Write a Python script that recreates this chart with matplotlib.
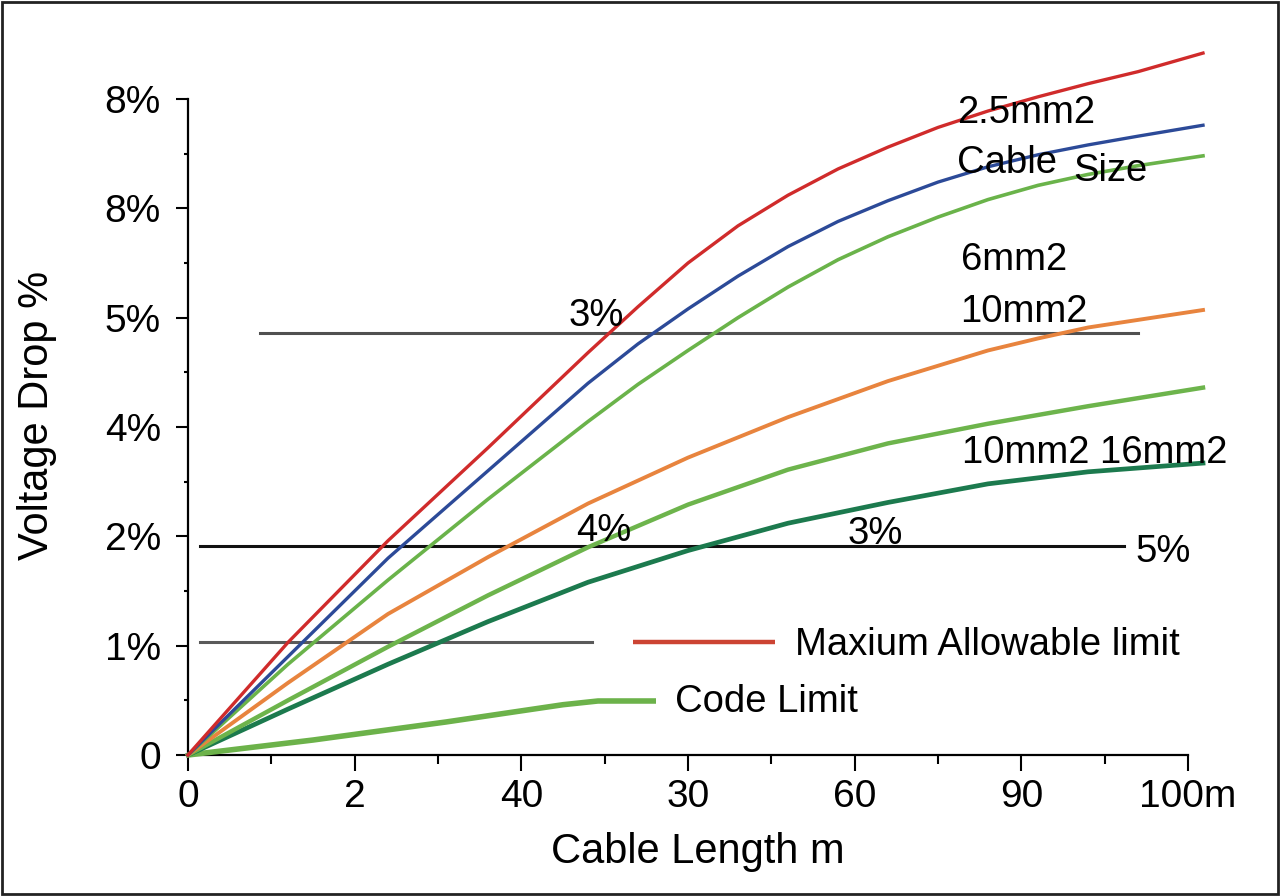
"""Voltage drop vs cable length for several cable sizes."""

import matplotlib
matplotlib.use("Agg")
import matplotlib.pyplot as plt
from matplotlib.patches import Rectangle

plt.rcParams["font.family"] = ["Liberation Sans", "DejaVu Sans"]

# ============================================================
# Data (x and y in tick-slot units)
# ============================================================

x_ticks = [0, 1, 2, 3, 4, 5, 6]
x_tick_labels = ["0", "2", "40", "30", "60", "90", "100m"]
y_ticks = [0, 1, 2, 3, 4, 5, 6]
y_tick_labels = ["0", "1%", "2%", "4%", "5%", "8%", "8%"]

red_x = [0, 0.6, 1.2, 1.8, 2.4, 2.7, 3.0, 3.3, 3.6, 3.9, 4.2, 4.5, 4.8, 5.1,
         5.4, 5.7, 6.09]
red_y = [0, 1.03, 1.96, 2.81, 3.68, 4.10, 4.50, 4.84, 5.12, 5.36, 5.56, 5.74,
         5.89, 6.02, 6.14, 6.25, 6.42]

blue_x = [0, 0.6, 1.2, 1.8, 2.4, 2.7, 3.0, 3.3, 3.6, 3.9, 4.2, 4.5, 4.8, 5.1,
          5.4, 5.7, 6.09]
blue_y = [0, 0.90, 1.80, 2.60, 3.40, 3.76, 4.08, 4.38, 4.65, 4.88, 5.07, 5.24,
          5.38, 5.49, 5.58, 5.66, 5.76]

green1_x = [0, 0.6, 1.2, 1.8, 2.4, 2.7, 3.0, 3.3, 3.6, 3.9, 4.2, 4.5, 4.8,
            5.1, 5.4, 5.7, 6.09]
green1_y = [0, 0.83, 1.60, 2.34, 3.05, 3.39, 3.70, 4.00, 4.28, 4.53, 4.74,
            4.92, 5.08, 5.21, 5.31, 5.39, 5.48]

orange_x = [0, 0.6, 1.2, 1.8, 2.4, 3.0, 3.6, 4.2, 4.8, 5.1, 5.4, 6.09]
orange_y = [0, 0.66, 1.29, 1.81, 2.30, 2.72, 3.09, 3.42, 3.70, 3.81, 3.91,
            4.07]

green2_x = [0, 0.6, 1.2, 1.8, 2.4, 3.0, 3.6, 4.2, 4.8, 5.4, 6.09]
green2_y = [0, 0.50, 0.99, 1.46, 1.90, 2.29, 2.61, 2.85, 3.03, 3.19, 3.36]

dkgreen_x = [0, 0.6, 1.2, 1.8, 2.4, 3.0, 3.6, 4.2, 4.8, 5.4, 6.09]
dkgreen_y = [0, 0.42, 0.83, 1.22, 1.58, 1.87, 2.12, 2.31, 2.48, 2.59, 2.67]

code_x = [0, 0.75, 1.548, 2.25, 2.46, 2.808]
code_y = [0, 0.137, 0.302, 0.46, 0.494, 0.494]

# horizontal limit lines: (y, x_start, x_end)
limit_top = (3.86, 0.432, 5.7)
limit_mid = (1.912, 0.072, 5.616)
limit_low = (1.034, 0.072, 2.424)

legend_red_x = [2.67, 3.52]
legend_red_y = [1.034, 1.034]

# ============================================================
# Plot
# ============================================================

fig = plt.figure(figsize=(12.8, 8.96), dpi=100)
ax = fig.add_axes([188 / 1280, 141 / 896, 1000 / 1280, 656 / 896])

for y, x0, x1, col in [(*limit_top, "#505050"), (*limit_mid, "#111111"),
                       (*limit_low, "#5a5a5a")]:
    ax.plot([x0, x1], [y, y], color=col, lw=2.2, clip_on=False, zorder=2)

ax.plot(code_x, code_y, color="#6cb24a", lw=4.0, clip_on=False,
        solid_capstyle="butt", zorder=3)
ax.plot(dkgreen_x, dkgreen_y, color="#1c7a4e", lw=3.4, clip_on=False, zorder=3)
ax.plot(green2_x, green2_y, color="#6db44c", lw=3.2, clip_on=False, zorder=3)
ax.plot(orange_x, orange_y, color="#e8843e", lw=2.8, clip_on=False, zorder=3)
ax.plot(green1_x, green1_y, color="#6ab34a", lw=2.6, clip_on=False, zorder=3)
ax.plot(blue_x, blue_y, color="#2c4a98", lw=2.4, clip_on=False, zorder=3)
ax.plot(red_x, red_y, color="#d02b2b", lw=2.4, clip_on=False, zorder=3)
ax.plot(legend_red_x, legend_red_y, color="#cc4433", lw=3.2,
        solid_capstyle="butt", clip_on=False, zorder=3)

ax.set_xlim(0, 6)
ax.set_ylim(0, 6)

ax.set_xticks(x_ticks)
ax.set_xticklabels(x_tick_labels)
ax.set_yticks(y_ticks)
ax.set_yticklabels(y_tick_labels)
ax.set_xticks([t + 0.5 for t in x_ticks[:-1]], minor=True)
ax.set_yticks([t + 0.5 for t in y_ticks[:-1]], minor=True)

ax.tick_params(axis="x", which="major", length=11.5, width=1.5, pad=6,
               labelsize=28, direction="out")
ax.tick_params(axis="x", which="minor", length=6.5, width=1.5, direction="out")
ax.tick_params(axis="y", which="major", length=8.6, width=1.5, pad=11,
               labelsize=28, direction="out")
ax.tick_params(axis="y", which="minor", length=3, width=1.5, direction="out")

for side in ["top", "right"]:
    ax.spines[side].set_visible(False)
for side in ["left", "bottom"]:
    ax.spines[side].set_linewidth(1.6)
    ax.spines[side].set_bounds(0, 6)

ax.set_xlabel("Cable Length m", fontsize=30)
ax.xaxis.set_label_coords(0.51, -0.117)
ax.set_ylabel("Voltage Drop %", fontsize=30)
ax.yaxis.set_label_coords(-0.131, 0.518)

# annotations
fs = 27.5
notes = [
    ("2.5mm2", 4.614, 5.909, "left"),
    ("Cable", 4.614, 5.451, "left"),
    ("Size", 5.31, 5.378, "left"),
    ("6mm2", 4.638, 4.564, "left"),
    ("10mm2", 4.632, 4.089, "left"),
    ("10mm2 16mm2", 4.644, 2.799, "left"),
    ("3%", 2.448, 4.052, "center"),
    ("4%", 2.496, 2.085, "center"),
    ("3%", 4.122, 2.058, "center"),
    ("5%", 5.85, 1.893, "center"),
    ("Maxium Allowable limit", 3.642, 1.043, "left"),
    ("Code Limit", 2.922, 0.52, "left"),
]
for txt, x, y, ha in notes:
    ax.text(x, y, txt, fontsize=fs, ha=ha, va="center_baseline",
            clip_on=False, zorder=5)

# thin frame round the whole picture
fig.patches.append(Rectangle((0.0015, 0.002), 0.997, 0.996, fill=False,
                             lw=2, edgecolor="#222222",
                             transform=fig.transFigure, figure=fig))

fig.savefig("out.png", dpi=100)
